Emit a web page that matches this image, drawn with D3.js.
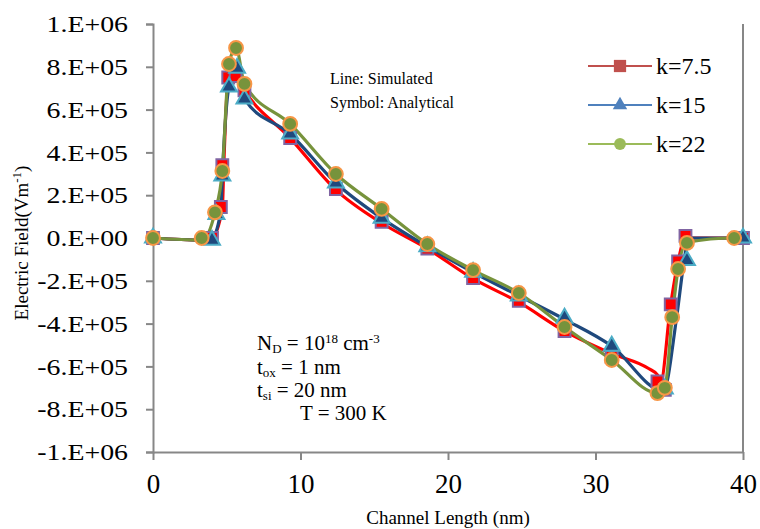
<!DOCTYPE html>
<html>
<head>
<meta charset="utf-8">
<script src="https://cdn.jsdelivr.net/npm/d3@7"></script>
<style>
  body { margin: 0; background: #fff; }
  svg { display: block; }
  text { font-family: "Liberation Serif", "Times New Roman", serif; fill: #000; }
</style>
</head>
<body>
<svg id="chart" width="760" height="529"></svg>
<script>
// Axis ticks
const xTicks = [0, 10, 20, 30, 40];
const yTicks = [-1e6, -8e5, -6e5, -4e5, -2e5, 0, 2e5, 4e5, 6e5, 8e5, 1e6];
const yTickLabels = ["-1.E+06", "-8.E+05", "-6.E+05", "-4.E+05", "-2.E+05", "0.E+00",
                     "2.E+05", "4.E+05", "6.E+05", "8.E+05", "1.E+06"];

const seriesNames = ["k=7.5", "k=15", "k=22"];

// Simulated profiles (lines): channel position (nm) and field (V/m)
const simX_k75 = [0, 3.3, 4.0, 4.7, 4.8, 5.1, 5.6, 6.2, 9.3, 12.4, 15.5, 18.6, 21.7, 24.8, 27.9, 31.1, 33.6, 34.2, 34.4, 35.1, 35.6, 36.1, 40];
const simY_k75 = [0, -1e4, 0, 1.4e5, 3.4e5, 7.5e5, 7.6e5, 6.9e5, 4.67e5, 2.25e5, 7e4, -5e4, -1.9e5, -3.0e5, -4.35e5, -5.4e5, -6.1e5, -6.4e5, -6.8e5, -3.1e5, -1.1e5, 0, 0];

const simX_k15 = [0, 3.3, 4.0, 4.6, 4.7, 5.15, 5.7, 6.2, 9.3, 12.4, 15.5, 18.6, 21.7, 24.8, 27.9, 31.1, 34.6, 35.5, 36.0, 36.3, 40];
const simY_k15 = [0, -1e4, 0, 1.3e5, 2.9e5, 7.06e5, 7.9e5, 6.5e5, 4.86e5, 2.57e5, 9.3e4, -4e4, -1.6e5, -2.7e5, -3.8e5, -5.05e5, -7.15e5, -3.7e5, -1.1e5, 0, 0];

const simX_k22 = [0, 3.3, 4.2, 4.7, 5.15, 5.63, 6.2, 9.3, 12.4, 15.5, 18.6, 21.7, 24.8, 27.9, 31.1, 34.2, 34.7, 35.2, 35.6, 36.2, 39.4, 40];
const simY_k22 = [0, -1e4, 1.2e5, 3.13e5, 8.13e5, 8.88e5, 7.2e5, 5.33e5, 2.99e5, 1.36e5, -2.8e4, -1.5e5, -2.57e5, -4.16e5, -5.7e5, -7.25e5, -7.0e5, -3.7e5, -1.45e5, -2e4, 0, 0];

// Analytical model (symbols)
const anaX_k75 = [0, 4.0, 4.6, 4.7, 5.1, 5.6, 6.2, 9.3, 12.4, 15.5, 18.6, 21.7, 24.8, 27.9, 31.1, 34.2, 34.7, 35.1, 35.6, 36.1, 40];
const anaY_k75 = [0, 0, 1.45e5, 3.4e5, 7.5e5, 7.57e5, 6.9e5, 4.67e5, 2.29e5, 7.5e4, -5e4, -1.87e5, -2.94e5, -4.35e5, -5.56e5, -6.7e5, -7.1e5, -3.1e5, -1.1e5, 1e4, 0];

const anaX_k15 = [0, 4.0, 4.3, 4.7, 5.15, 5.7, 6.2, 9.3, 12.4, 15.5, 18.6, 21.7, 24.8, 27.9, 31.1, 34.7, 36.2, 40];
const anaY_k15 = [0, -1e4, 1.1e5, 2.9e5, 7.06e5, 7.94e5, 6.5e5, 4.86e5, 2.57e5, 9.3e4, -4e4, -1.6e5, -2.7e5, -3.74e5, -5.05e5, -7.05e5, -1.05e5, 0];

const anaX_k22 = [0, 3.3, 4.2, 4.7, 5.15, 5.63, 6.2, 9.3, 12.4, 15.5, 18.6, 21.7, 24.8, 27.9, 31.1, 34.2, 34.7, 35.2, 35.6, 36.2, 39.4];
const anaY_k22 = [0, 0, 1.2e5, 3.13e5, 8.13e5, 8.88e5, 7.2e5, 5.33e5, 2.99e5, 1.36e5, -2.8e4, -1.5e5, -2.57e5, -4.16e5, -5.7e5, -7.25e5, -7.0e5, -3.7e5, -1.45e5, -2.3e4, 0];

const svg = d3.select("#chart");
const plotL = 153, plotR = 743, plotT = 24, plotB = 452;

const x = d3.scaleLinear().domain([0, 40]).range([plotL, plotR]);
const y = d3.scaleLinear().domain([-1e6, 1e6]).range([plotB, plotT]);

const axisColor = "#878787";

// Y axis
const yAxis = svg.append("g")
  .attr("transform", `translate(${plotL},0)`)
  .call(d3.axisLeft(y).tickValues(yTicks).tickSize(7).tickPadding(18)
    .tickFormat((d, i) => yTickLabels[i]));
yAxis.select(".domain").attr("stroke", axisColor).attr("stroke-width", 2);
yAxis.selectAll(".tick line").attr("stroke", axisColor).attr("stroke-width", 2);
yAxis.selectAll(".tick text").attr("font-size", 24).attr("fill", "#000")
  .attr("font-family", "Liberation Serif, serif")
  .each(function () {
    // slightly wide-set labels
    const w = this.getComputedTextLength();
    d3.select(this).attr("textLength", w * 1.16).attr("lengthAdjust", "spacingAndGlyphs");
  });

// X axis
const xAxis = svg.append("g")
  .attr("transform", `translate(0,${plotB})`)
  .call(d3.axisBottom(x).tickValues(xTicks).tickSizeInner(8).tickSizeOuter(0).tickPadding(14));
xAxis.select(".domain").attr("stroke", axisColor).attr("stroke-width", 2);
xAxis.selectAll(".tick line").attr("stroke", axisColor).attr("stroke-width", 2);
xAxis.selectAll(".tick text").attr("font-size", 27).attr("fill", "#000")
  .attr("font-family", "Liberation Serif, serif");

// right border of plot area
svg.append("line")
  .attr("x1", plotR).attr("x2", plotR).attr("y1", plotT).attr("y2", plotB)
  .attr("stroke", axisColor).attr("stroke-width", 2);

// Axis titles
const yTitle = svg.append("text")
  .attr("transform", `translate(28,${(plotT + plotB) / 2 + 5}) rotate(-90)`)
  .attr("text-anchor", "middle").attr("font-size", 19);
yTitle.append("tspan").text("Electric Field(Vm");
yTitle.append("tspan").attr("dy", -7).attr("font-size", 13).text("-1");
yTitle.append("tspan").attr("dy", 7).text(")");

svg.append("text")
  .attr("x", 448).attr("y", 524)
  .attr("text-anchor", "middle").attr("font-size", 19)
  .text("Channel Length (nm)");

// Simulated lines
const lineGen = d3.line().x(d => x(d[0])).y(d => y(d[1])).curve(d3.curveMonotoneX);
const simSeries = [
  { xs: simX_k75, ys: simY_k75, color: "#ff0000" },
  { xs: simX_k15, ys: simY_k15, color: "#1f497d" },
  { xs: simX_k22, ys: simY_k22, color: "#77933c" }
];
const plot = svg.append("g");
simSeries.forEach(s => {
  plot.append("path")
    .datum(d3.zip(s.xs, s.ys))
    .attr("d", lineGen)
    .attr("fill", "none")
    .attr("stroke", s.color)
    .attr("stroke-width", 3.2)
    .attr("stroke-linejoin", "round");
});

// Analytical symbols
const sq = d3.symbol().type(d3.symbolSquare).size(140);
const tri = d3.symbol().type(d3.symbolTriangle).size(110);
const circ = d3.symbol().type(d3.symbolCircle).size(150);

const anaSeries = [
  { xs: anaX_k75, ys: anaY_k75, sym: sq, fill: "#ff0000", stroke: "#8064a2" },
  { xs: anaX_k15, ys: anaY_k15, sym: tri, fill: "#1f497d", stroke: "#4bacc6" },
  { xs: anaX_k22, ys: anaY_k22, sym: circ, fill: "#77933c", stroke: "#f79646" }
];
anaSeries.forEach(s => {
  plot.append("g").selectAll("path")
    .data(d3.zip(s.xs, s.ys))
    .join("path")
    .attr("d", s.sym)
    .attr("transform", d => `translate(${x(d[0])},${y(d[1])})`)
    .attr("fill", s.fill)
    .attr("stroke", s.stroke)
    .attr("stroke-width", 2);
});

// Legend
const legendColors = ["#c0504d", "#4f81bd", "#9bbb59"];
const legendSyms = [
  d3.symbol().type(d3.symbolSquare).size(150),
  d3.symbol().type(d3.symbolTriangle).size(90),
  d3.symbol().type(d3.symbolCircle).size(110)
];
const legendY = [66, 105, 144];
seriesNames.forEach((name, i) => {
  const g = svg.append("g").attr("transform", `translate(0,${legendY[i]})`);
  g.append("line").attr("x1", 588).attr("x2", 652).attr("y1", 0).attr("y2", 0)
    .attr("stroke", legendColors[i]).attr("stroke-width", 2);
  g.append("path").attr("d", legendSyms[i]).attr("transform", "translate(620,0)")
    .attr("fill", legendColors[i]);
  g.append("text").attr("x", 656).attr("y", 8).attr("font-size", 24).text(name);
});

// Annotations
svg.append("text").attr("x", 330).attr("y", 84).attr("font-size", 16).text("Line: Simulated");
svg.append("text").attr("x", 330).attr("y", 108).attr("font-size", 16).text("Symbol: Analytical");

const ann = svg.append("g").attr("font-size", 21);
const t1 = ann.append("text").attr("x", 257).attr("y", 350);
t1.append("tspan").text("N");
t1.append("tspan").attr("dy", 3).attr("font-size", 13).text("D");
t1.append("tspan").attr("dy", -3).text(" = 10");
t1.append("tspan").attr("dy", -7).attr("font-size", 13).text("18");
t1.append("tspan").attr("dy", 7).text(" cm");
t1.append("tspan").attr("dy", -7).attr("font-size", 13).text("-3");

const t2 = ann.append("text").attr("x", 257).attr("y", 374);
t2.append("tspan").text("t");
t2.append("tspan").attr("dy", 3).attr("font-size", 13).text("ox");
t2.append("tspan").attr("dy", -3).text(" = 1 nm");

const t3 = ann.append("text").attr("x", 257).attr("y", 397);
t3.append("tspan").text("t");
t3.append("tspan").attr("dy", 3).attr("font-size", 13).text("si");
t3.append("tspan").attr("dy", -3).text(" =  20 nm");

ann.append("text").attr("x", 300).attr("y", 420).text("T = 300 K");
</script>
</body>
</html>
